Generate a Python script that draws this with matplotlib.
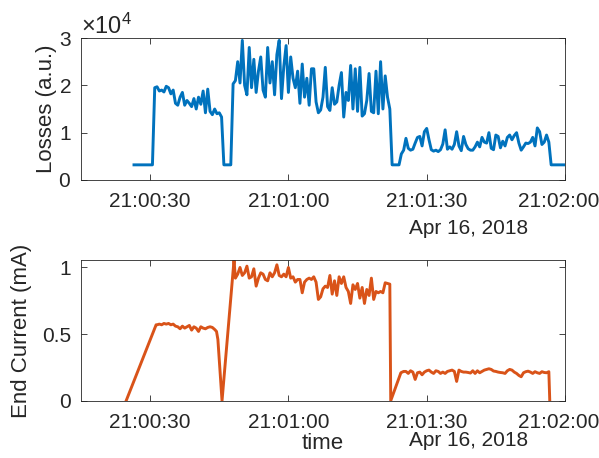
import numpy as np
import matplotlib
matplotlib.use("Agg")
import matplotlib.pyplot as plt
import matplotlib.transforms as mtransforms
from matplotlib.ticker import FuncFormatter, ScalarFormatter

plt.rcParams['font.family'] = ['Liberation Sans', 'DejaVu Sans']
plt.rcParams['mathtext.fontset'] = 'custom'
plt.rcParams['mathtext.rm'] = 'Liberation Sans'

# ---- data: seconds after 21:00:00 on Apr 16, 2018 ----
loss_t = np.arange(26.5, 120.01, 0.5)
loss_scale = 1e4
loss_v = (
    [0.32] * 9 +
    [1.95, 1.97, 1.88, 1.90, 1.86, 1.98, 1.95, 1.82, 1.90, 1.62,
     1.58, 1.75, 1.85, 1.58, 1.68, 1.62, 1.55, 1.72, 1.50, 1.75,
     1.60, 1.88, 1.42, 1.92, 1.45, 1.38, 1.50, 1.40, 1.42, 1.33] +
    [0.32] * 4 +
    [2.03, 2.10, 2.50, 2.05, 2.95, 2.00, 1.80, 2.80, 1.95, 2.55,
     1.85, 2.30, 2.60, 1.90, 1.75, 2.80, 2.05, 2.50, 1.80, 2.65,
     2.95, 1.72, 2.40, 2.84, 1.85, 2.60, 2.15, 1.95, 2.30, 1.62,
     2.45, 1.75, 2.15, 1.58, 2.35] +
    [2.35, 1.65, 1.42, 1.48, 1.75, 2.38, 1.55, 1.47, 1.95, 1.60,
     1.65, 2.00, 2.27, 1.33, 1.85, 1.68, 2.42, 1.50, 2.35, 1.45,
     2.38, 1.35, 1.40, 1.68, 2.25, 1.45, 1.42, 2.30, 1.40, 2.50,
     1.50, 2.20, 1.75, 1.50] +
    [0.32] * 4 +
    [0.55, 0.63, 0.88, 0.67, 0.63, 0.65, 0.78, 0.90, 0.92, 0.72,
     1.02, 1.09, 0.85, 0.64, 0.61, 0.63, 0.60, 0.64, 0.76, 1.06,
     0.65, 0.70, 0.65, 0.75, 1.02, 0.72, 0.62, 0.92, 0.75, 0.66,
     0.63, 0.63, 0.70, 0.80] +
    [0.70, 0.90, 0.80, 0.78, 1.00, 0.67, 0.64, 0.95, 0.92, 0.68,
     0.82, 0.72, 0.90, 0.95, 0.85, 0.94, 1.00, 0.78, 0.63, 0.70,
     0.78, 0.77, 0.80, 0.90, 0.72, 1.10, 1.02, 0.75, 0.80, 0.95,
     0.80] +
    [0.32] * 7
)
loss_v = np.array(loss_v) * loss_scale

cur_t = np.concatenate([
    [24.8, 31.3],
    np.arange(31.5, 44.01, 0.5),
    [44.4, 44.7, 45.6, 48.2],
    np.arange(48.5, 82.01, 0.5),
    [82.2, 84.4],
    np.arange(85.0, 116.51, 0.5),
    [116.7],
])
cur_v = (
    [0.0, 0.57] +
    [0.57, 0.575, 0.57, 0.58, 0.575, 0.58, 0.57, 0.575, 0.56, 0.555,
     0.54, 0.56, 0.545, 0.555, 0.565, 0.53, 0.555, 0.545, 0.52, 0.555,
     0.545, 0.54, 0.55, 0.555, 0.55, 0.535] +
    [0.52, 0.46, 0.0, 1.055] +
    [0.92, 0.95, 1.00, 0.94, 0.96, 1.01, 0.92, 0.93, 0.99, 0.86,
     0.92, 0.96, 0.95, 0.91, 0.90, 0.96, 0.93, 0.96, 1.02, 0.94,
     0.93, 0.95, 0.93, 1.00, 0.92, 0.93, 0.89, 0.91, 0.91, 0.81,
     0.89, 0.91, 0.92] +
    [0.91, 0.93, 0.89, 0.76, 0.78, 0.84, 0.86, 0.85, 0.94, 0.80,
     0.90, 0.79, 0.93, 0.88, 0.93, 0.85, 0.82, 0.73, 0.87, 0.835,
     0.88, 0.77, 0.85, 0.73, 0.835, 0.79, 0.92, 0.76, 0.82, 0.81,
     0.82, 0.81, 0.885, 0.88, 0.875] +
    [0.0, 0.21] +
    [0.22, 0.22, 0.205, 0.225, 0.215, 0.16, 0.21, 0.215, 0.195, 0.215,
     0.225, 0.23, 0.215, 0.205, 0.225, 0.22, 0.205, 0.215, 0.205, 0.22,
     0.225, 0.23, 0.22, 0.145, 0.23, 0.22, 0.215, 0.215, 0.212, 0.208,
     0.225, 0.205, 0.225, 0.21, 0.22, 0.23, 0.235, 0.24, 0.235, 0.223,
     0.22, 0.215, 0.212, 0.21, 0.205, 0.225, 0.235, 0.23, 0.215, 0.205,
     0.19, 0.18, 0.21, 0.218, 0.222, 0.215, 0.205, 0.218, 0.21, 0.205,
     0.218, 0.212, 0.21, 0.218] +
    [0.0]
)

x_ticks = [30, 60, 90, 120]
date_label = "Apr 16, 2018"
blue = "#0072BD"
orange = "#D95319"
axis_col = "#262626"

def fmt_time(v, pos):
    s = int(round(v))
    return "21:%02d:%02d" % (s // 60, s % 60)

fig = plt.figure(figsize=(5.99, 4.58), dpi=100)
ax1 = fig.add_axes([0.1352, 0.607, 0.808, 0.310])
ax2 = fig.add_axes([0.1352, 0.125, 0.808, 0.307])

ax1.plot(loss_t, loss_v, color=blue, lw=2.1)
ax2.plot(cur_t, cur_v, color=orange, lw=2.1)

TS = 15
for ax in (ax1, ax2):
    ax.set_xlim(15, 120)
    ax.set_xticks(x_ticks)
    ax.xaxis.set_major_formatter(FuncFormatter(fmt_time))
    ax.tick_params(direction='in', top=True, right=True, length=4,
                   width=0.6, color=axis_col, labelsize=TS, labelcolor=axis_col)
    ax.tick_params(axis='x', pad=9)
    ax.tick_params(axis='y', pad=7)
    for sp in ax.spines.values():
        sp.set_color(axis_col)
        sp.set_linewidth(0.6)

ax1.set_ylim(0, 3e4)
ax1.set_yticks([0, 1e4, 2e4, 3e4])
sf = ScalarFormatter(useMathText=True)
sf.set_powerlimits((0, 0))
ax1.yaxis.set_major_formatter(sf)
ax1.yaxis.get_offset_text().set_fontsize(17)
ax1.yaxis.get_offset_text().set_color(axis_col)

ax2.set_ylim(0, 1.055)
ax2.set_yticks([0, 0.5, 1])
ax2.set_yticklabels(["0", "0.5", "1"])

LS = 16
ax1.set_ylabel("Losses (a.u.)", fontsize=LS, color=axis_col)
ax1.yaxis.set_label_coords(-0.050, 0.5)
ax2.set_ylabel("End Current (mA)", fontsize=LS, color=axis_col)
ax2.yaxis.set_label_coords(-0.101, 0.5)
ax2.set_xlabel("time", fontsize=LS, color=axis_col)
ax2.xaxis.label.set_va('center')
ax2.xaxis.set_label_coords(0.5, -(443 - 400.7) / 140.7)

fig.canvas.draw()
shift = mtransforms.ScaledTranslation(-6 / 100, 0, fig.dpi_scale_trans)
for ax in (ax1, ax2):
    lbl = ax.get_xticklabels()[-1]
    lbl.set_transform(lbl.get_transform() + shift)

fig.text(469 / 599, 1 - 229 / 458, date_label, ha='center', va='center',
         fontsize=TS, color=axis_col)
fig.text(469 / 599, 1 - 440 / 458, date_label, ha='center', va='center',
         fontsize=TS, color=axis_col)

fig.savefig("out.png", dpi=100)
